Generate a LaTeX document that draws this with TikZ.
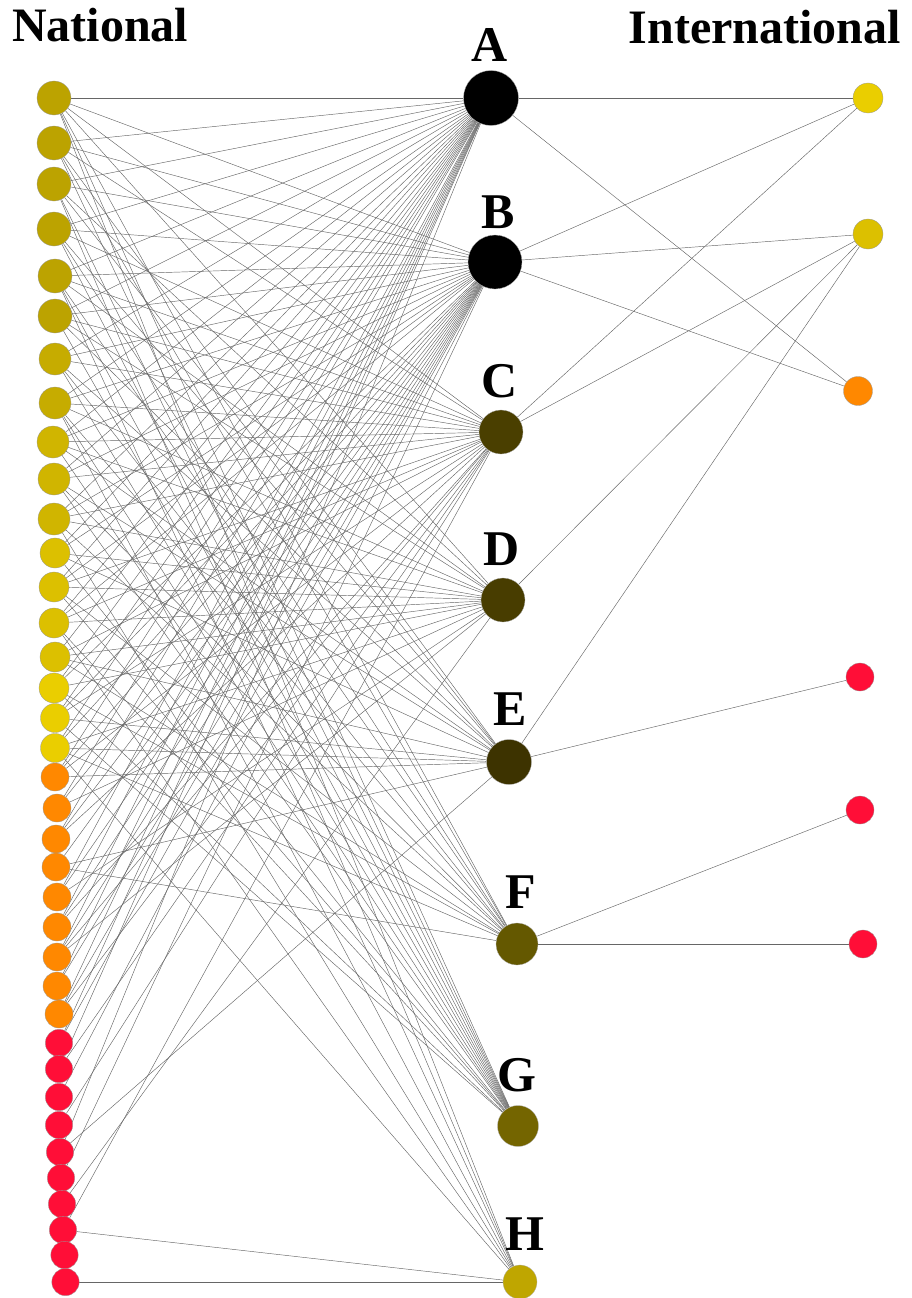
\documentclass[tikz,border=0pt]{standalone}
\usepackage{fontspec}
\setmainfont{Liberation Serif}
\usetikzlibrary{backgrounds}

\definecolor{olA}{HTML}{BCA300}
\definecolor{olB}{HTML}{C6AC00}
\definecolor{olC}{HTML}{D0B500}
\definecolor{ylA}{HTML}{DCC000}
\definecolor{ylB}{HTML}{EACE00}
\definecolor{orng}{HTML}{FF8800}
\definecolor{natred}{HTML}{FF0E37}
\definecolor{hubC}{HTML}{4A3F00}
\definecolor{hubD}{HTML}{483D00}
\definecolor{hubE}{HTML}{3D3300}
\definecolor{hubF}{HTML}{645800}
\definecolor{hubG}{HTML}{746500}
\definecolor{hubH}{HTML}{BFA600}

\tikzset{
  natnode/.style={circle,draw=black!40,line width=.3pt,inner sep=0pt},
  hub/.style={circle,inner sep=0pt,draw=black!30,line width=.3pt},
  link/.style={black!60,line width=.45pt},
  hublabel/.style={font=\fontsize{50}{50}\selectfont\bfseries,inner sep=0pt,anchor=base},
  sidetitle/.style={font=\fontsize{48}{48}\selectfont\bfseries,inner sep=0pt,anchor=base}
}

\begin{document}
\begin{tikzpicture}[x=1pt,y=-1pt]
    \useasboundingbox (0,0) rectangle (912,1298);

    % titles
    \node[sidetitle,anchor=base west] (natTitle) at (12,42) {National};
    \node[sidetitle,anchor=base east] (intTitle) at (901,44) {International};

    % national nodes
    \foreach \i/\x/\y/\r/\c in {
      1/54/98/17/olA, 2/54/143/17/olA, 3/54/184/17/olA, 4/54/229/17/olA,
      5/55/276/17/olA, 6/55/316/17/olA, 7/55/359/16/olB, 8/55/403/16/olB,
      9/53/442/16/olC, 10/54/479/16/olC, 11/54/519/16/olC, 12/55/553/15/ylA,
      13/54/587/15/ylA, 14/54/623/15/ylA, 15/55/657/15/ylA, 16/54/688/15/ylB,
      17/55/718/14.5/ylB, 18/55/748/14.5/ylB,
      19/55/777/14/orng, 20/57/808/14/orng, 21/56/839/14/orng, 22/56/867/14/orng,
      23/57/897/14/orng, 24/57/927/14/orng, 25/57/957/14/orng, 26/57/986/14/orng,
      27/59/1014/14/orng,
      28/59/1043/13.7/natred, 29/59/1069/13.7/natred, 30/59/1097/13.7/natred,
      31/59/1125/13.7/natred, 32/60/1152/13.7/natred, 33/61/1178/13.7/natred,
      34/62/1204/13.7/natred, 35/63/1230/13.7/natred, 36/64.5/1255/13.7/natred,
      37/65.5/1282/13.7/natred}
      \node[natnode,fill=\c,minimum size=\r*2pt] (nat\i) at (\x,\y) {};

    % hubs
    \node[hub,fill=black,minimum size=55pt] (A) at (491,98) {};
    \node[hub,fill=black,minimum size=54pt] (B) at (495,262) {};
    \node[hub,fill=hubC,minimum size=44pt] (C) at (501,432) {};
    \node[hub,fill=hubD,minimum size=44pt] (D) at (503,600) {};
    \node[hub,fill=hubE,minimum size=45pt] (E) at (509,762) {};
    \node[hub,fill=hubF,minimum size=42pt] (F) at (517,944) {};
    \node[hub,fill=hubG,minimum size=41pt] (G) at (518,1126) {};
    \node[hub,fill=hubH,minimum size=34pt] (H) at (520,1282) {};

    \node[hublabel] (labA) at (490,62) {A};
    \node[hublabel] (labB) at (498,228) {B};
    \node[hublabel] (labC) at (500,397) {C};
    \node[hublabel] (labD) at (502,565) {D};
    \node[hublabel] (labE) at (510,725) {E};
    \node[hublabel] (labF) at (521,908) {F};
    \node[hublabel] (labG) at (517,1091) {G};
    \node[hublabel] (labH) at (525,1250) {H};

    % international nodes
    \node[natnode,fill=ylB,minimum size=30pt] (int1) at (868,98) {};
    \node[natnode,fill=ylA,minimum size=30pt] (int2) at (868,234) {};
    \node[natnode,fill=orng,minimum size=29pt] (int3) at (858,391) {};
    \node[natnode,fill=natred,minimum size=28pt] (int4) at (860,677) {};
    \node[natnode,fill=natred,minimum size=28pt] (int5) at (860,810) {};
    \node[natnode,fill=natred,minimum size=28pt] (int6) at (863,944) {};

    \begin{pgfonlayer}{background}
      % national -> hubs
      \foreach \i/\nb in {
        1/{A,B,C,D,F,G,H}, 2/{A,B,C,E,F,G}, 3/{A,B,D,E,G,H}, 4/{A,B,C,E,F,G},
        5/{A,B,C,D,F,G,H}, 6/{A,B,C,D,E,G}, 7/{A,B,C,E,F,G}, 8/{A,B,C,D,F,G,H},
        9/{A,B,C,D,E,G}, 10/{A,B,C,E,F,G}, 11/{A,B,C,D,F,H}, 12/{A,B,D,E,G},
        13/{A,B,C,D,F,G}, 14/{A,B,C,D,G,H}, 15/{A,C,D,E,F}, 16/{A,B,D,F,G},
        17/{A,B,C,E,G}, 18/{A,B,D,E,F,H}, 19/{A,B,C,E}, 20/{A,B,D},
        21/{A,B,C}, 22/{B,E,F}, 23/{A,B,D}, 24/{A,B,C}, 25/{A,B,C,D},
        26/{A,B}, 27/{A,B,C}, 28/{A,B}, 29/{A,C}, 30/{B}, 31/{C},
        32/{A,E}, 33/{B}, 34/{D}, 35/{C,H}, 37/{H}}
        \foreach \m in \nb
          \draw[link] (nat\i) -- (\m);

      % hubs -> international
      \foreach \h/\t in {A/int1, A/int3, B/int1, B/int2, B/int3, C/int1, C/int2,
                         D/int2, E/int2, E/int4, F/int5, F/int6}
        \draw[link] (\h) -- (\t);
    \end{pgfonlayer}
\end{tikzpicture}
\end{document}
